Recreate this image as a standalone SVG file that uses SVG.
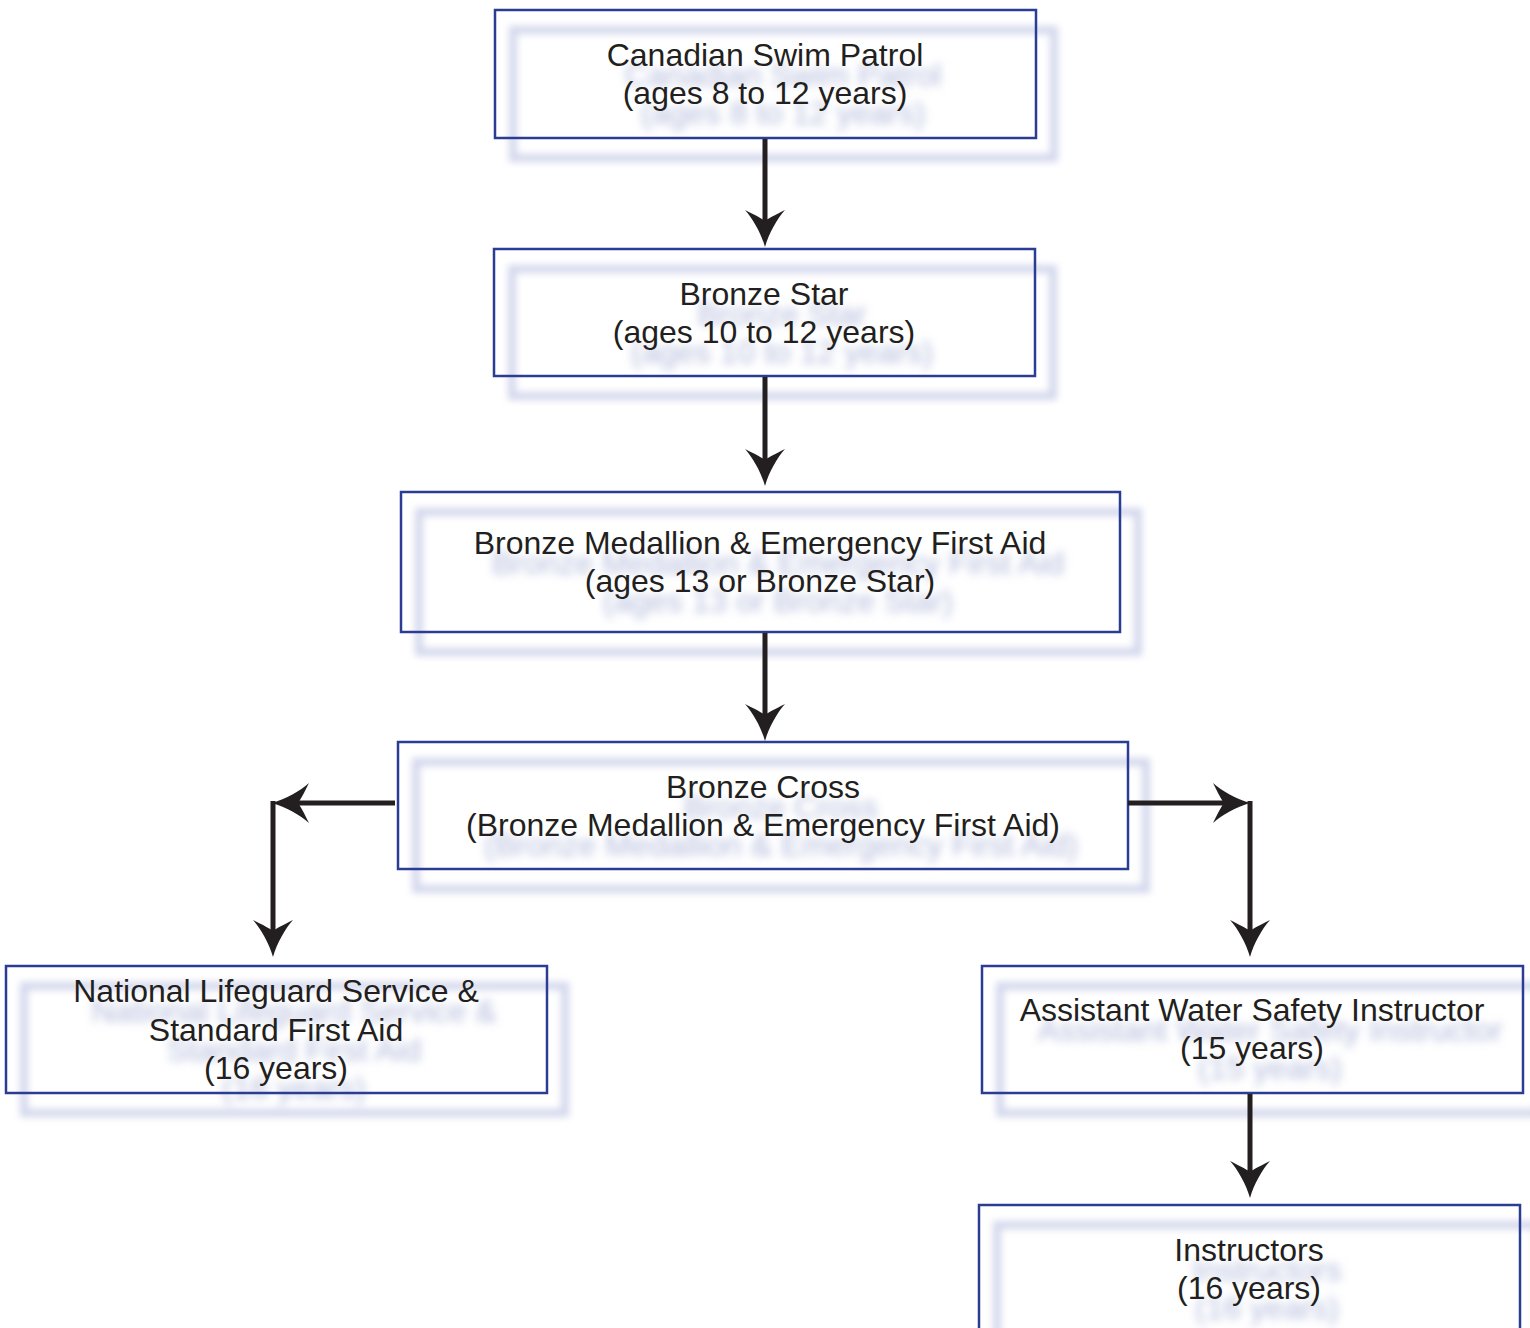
<svg xmlns="http://www.w3.org/2000/svg" xmlns:xlink="http://www.w3.org/1999/xlink" width="1530" height="1328" viewBox="0 0 1530 1328">
<style>
.box{fill:none;stroke:#2b3d92;stroke-width:2.5}
.t{font-family:"Liberation Sans",Arial,sans-serif;font-size:32px;fill:#231f20;text-anchor:middle}
.sh rect{fill:none;stroke:#d3d7ec;stroke-width:8;filter:url(#blurR)}
.sh text{font-family:"Liberation Sans",Arial,sans-serif;font-size:32px;fill:#b3bbdc;text-anchor:middle;filter:url(#blurT)}
.ln{stroke:#231f20;stroke-width:5;fill:none}
.ah{fill:#231f20}
</style>
<defs>
<filter id="blurR" x="-10%" y="-30%" width="120%" height="160%"><feGaussianBlur stdDeviation="3.5"/></filter>
<filter id="blurT" x="-10%" y="-50%" width="120%" height="200%"><feGaussianBlur stdDeviation="4.5"/></filter>
<path id="ah" d="M0,0 C-4,-14 -12,-28 -20,-37 C-10,-32 -4,-29 0,-26 C4,-29 10,-32 20,-37 C12,-28 4,-14 0,0 Z"/>
</defs>
<rect width="1530" height="1328" fill="#ffffff"/>

<g id="n1">
<g class="sh" transform="translate(18,20)"><rect x="495" y="10" width="541" height="128"/><text x="765" y="66">Canadian Swim Patrol</text><text x="765" y="104">(ages 8 to 12 years)</text></g>
<rect class="box" x="495" y="10" width="541" height="128"/>
<text class="t" x="765" y="66">Canadian Swim Patrol</text>
<text class="t" x="765" y="104">(ages 8 to 12 years)</text>
</g>

<g id="n2">
<g class="sh" transform="translate(18,20)"><rect x="494" y="249" width="541" height="127"/><text x="764" y="305">Bronze Star</text><text x="764" y="343">(ages 10 to 12 years)</text></g>
<rect class="box" x="494" y="249" width="541" height="127"/>
<text class="t" x="764" y="305">Bronze Star</text>
<text class="t" x="764" y="343">(ages 10 to 12 years)</text>
</g>

<g id="n3">
<g class="sh" transform="translate(18,20)"><rect x="401" y="492" width="719" height="140"/><text x="760" y="554">Bronze Medallion &amp; Emergency First Aid</text><text x="760" y="592">(ages 13 or Bronze Star)</text></g>
<rect class="box" x="401" y="492" width="719" height="140"/>
<text class="t" x="760" y="554">Bronze Medallion &amp; Emergency First Aid</text>
<text class="t" x="760" y="592">(ages 13 or Bronze Star)</text>
</g>

<g id="n4">
<g class="sh" transform="translate(18,20)"><rect x="398" y="742" width="730" height="127"/><text x="763" y="798">Bronze Cross</text><text x="763" y="836">(Bronze Medallion &amp; Emergency First Aid)</text></g>
<rect class="box" x="398" y="742" width="730" height="127"/>
<text class="t" x="763" y="798">Bronze Cross</text>
<text class="t" x="763" y="836">(Bronze Medallion &amp; Emergency First Aid)</text>
</g>

<g id="n5">
<g class="sh" transform="translate(18,20)"><rect x="6" y="966" width="541" height="127"/><text x="276" y="1002">National Lifeguard Service &amp;</text><text x="276" y="1041">Standard First Aid</text><text x="276" y="1079">(16 years)</text></g>
<rect class="box" x="6" y="966" width="541" height="127"/>
<text class="t" x="276" y="1002">National Lifeguard Service &amp;</text>
<text class="t" x="276" y="1041">Standard First Aid</text>
<text class="t" x="276" y="1079">(16 years)</text>
</g>

<g id="n6">
<g class="sh" transform="translate(18,20)"><rect x="982" y="966" width="541" height="127"/><text x="1252" y="1021">Assistant Water Safety Instructor</text><text x="1252" y="1059">(15 years)</text></g>
<rect class="box" x="982" y="966" width="541" height="127"/>
<text class="t" x="1252" y="1021">Assistant Water Safety Instructor</text>
<text class="t" x="1252" y="1059">(15 years)</text>
</g>

<g id="n7">
<g class="sh" transform="translate(18,20)"><rect x="979" y="1205" width="541" height="140"/><text x="1249" y="1261">Instructors</text><text x="1249" y="1299">(16 years)</text></g>
<rect class="box" x="979" y="1205" width="541" height="140"/>
<text class="t" x="1249" y="1261">Instructors</text>
<text class="t" x="1249" y="1299">(16 years)</text>
</g>

<g id="connectors">
<line class="ln" x1="765" y1="139" x2="765" y2="225"/>
<use class="ah" xlink:href="#ah" transform="translate(765,247)"/>
<line class="ln" x1="765" y1="377" x2="765" y2="464"/>
<use class="ah" xlink:href="#ah" transform="translate(765,486)"/>
<line class="ln" x1="765" y1="633" x2="765" y2="719"/>
<use class="ah" xlink:href="#ah" transform="translate(765,741)"/>

<path class="ln" d="M395,803 H294"/>
<use class="ah" xlink:href="#ah" transform="translate(272,803) rotate(90)"/>
<path class="ln" d="M273,801 V935"/>
<use class="ah" xlink:href="#ah" transform="translate(273,957)"/>

<path class="ln" d="M1128,803 H1228"/>
<use class="ah" xlink:href="#ah" transform="translate(1250,803) rotate(-90)"/>
<path class="ln" d="M1250,801 V935"/>
<use class="ah" xlink:href="#ah" transform="translate(1250,957)"/>

<line class="ln" x1="1250" y1="1094" x2="1250" y2="1176"/>
<use class="ah" xlink:href="#ah" transform="translate(1250,1198)"/>
</g>
</svg>
